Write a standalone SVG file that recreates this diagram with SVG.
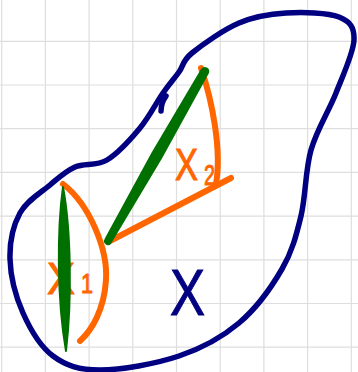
<svg xmlns="http://www.w3.org/2000/svg" width="358" height="372" viewBox="0 0 358 372">
<style>
.grid{stroke:#dedede;stroke-width:1.2;fill:none}
.blob{stroke:#000080;stroke-width:5.5;fill:none;stroke-linecap:round;stroke-linejoin:round}
.or{stroke:#ff6600;stroke-width:6;fill:none;stroke-linecap:round;stroke-linejoin:round}
.gr{fill:#007000;stroke:#007000;stroke-width:2;stroke-linejoin:round}
.lbl{font-family:"Liberation Sans",Arial,sans-serif}
.lo{fill:#ff6600;stroke:#ff6600;stroke-width:1}
.ln{fill:#000080;stroke:#000080;stroke-width:1}
</style>
<rect width="358" height="372" fill="#ffffff"/>
<g id="grid" class="grid">
<path d="M1.7,0V372M45.4,0V372M89.1,0V372M132.8,0V372M176.5,0V372M220.2,0V372M263.9,0V372M307.6,0V372M351.3,0V372"/>
<path d="M0,41.3H358M0,85H358M0,128.7H358M0,172.4H358M0,216.1H358M0,259.8H358M0,303.5H358M0,347.2H358"/>
</g>
<g id="region">
<path class="blob" d="M179,72 C174.2,78.7 169.5,83.7 163,93 C156.5,102.3 149.3,116.8 140,128 C130.7,139.2 117.8,153.5 107,160 C96.2,166.5 84.5,162.8 75,167 C65.5,171.2 59.2,177.3 50,185 C40.8,192.7 26.7,200.7 20,213 C13.3,225.3 9.5,242.3 10,259 C10.5,275.7 15.8,296.8 23,313 C30.2,329.2 40.2,346.5 53,356 C65.8,365.5 79,370 100,370 C121,370 155.8,363.8 179,356 C202.2,348.2 221.8,337.5 239,323 C256.2,308.5 271.7,286.8 282,269 C292.3,251.2 296.2,235.8 301,216 C305.8,196.2 305.2,170.5 311,150 C316.8,129.5 328.8,111.3 336,93 C343.2,74.7 353.5,52.7 354,40 C354.5,27.3 350.3,21.5 339,17 C327.7,12.5 302.7,12 286,13 C269.3,14 254.7,16.3 239,23 C223.3,29.7 202,44.8 192,53 C182,61.2 183.8,65.3 179,72 Z"/>
<path class="blob" stroke-width="3" d="M166,96 C163,100 161,105 161,111"/>
</g>
<g id="labels" class="lbl">
<text class="lo" x="175" y="180" font-size="44" textLength="23" lengthAdjust="spacingAndGlyphs">X</text>
<text class="lo" x="204" y="185" font-size="30" textLength="11" lengthAdjust="spacingAndGlyphs">2</text>
<text class="lo" x="47" y="294" font-size="44" textLength="28" lengthAdjust="spacingAndGlyphs">X</text>
<text class="lo" x="81" y="293" font-size="28" textLength="12" lengthAdjust="spacingAndGlyphs">1</text>
<text class="ln" x="170" y="315" font-size="64" textLength="35" lengthAdjust="spacingAndGlyphs">X</text>
</g>
<g id="connectors">
<path class="or" d="M63,184 C90,205 108,250 106,280 C104,310 92,330 80,341"/>
<path class="or" d="M201,68 C212,100 222,150 216,184"/>
<path class="or" d="M108,242 L231,178"/>
<path class="gr" d="M208,72.7 L160.8,158.5 L110.6,242.5 A3,3 0 0 1 105.4,239.5 L152.2,153.5 L202,69.3 A3.5,3.5 0 0 1 208,72.7 Z"/>
<path class="gr" d="M63,187 C57,230 57,300 66,351 C72,300 71,230 63,187 Z"/>
</g>
</svg>
